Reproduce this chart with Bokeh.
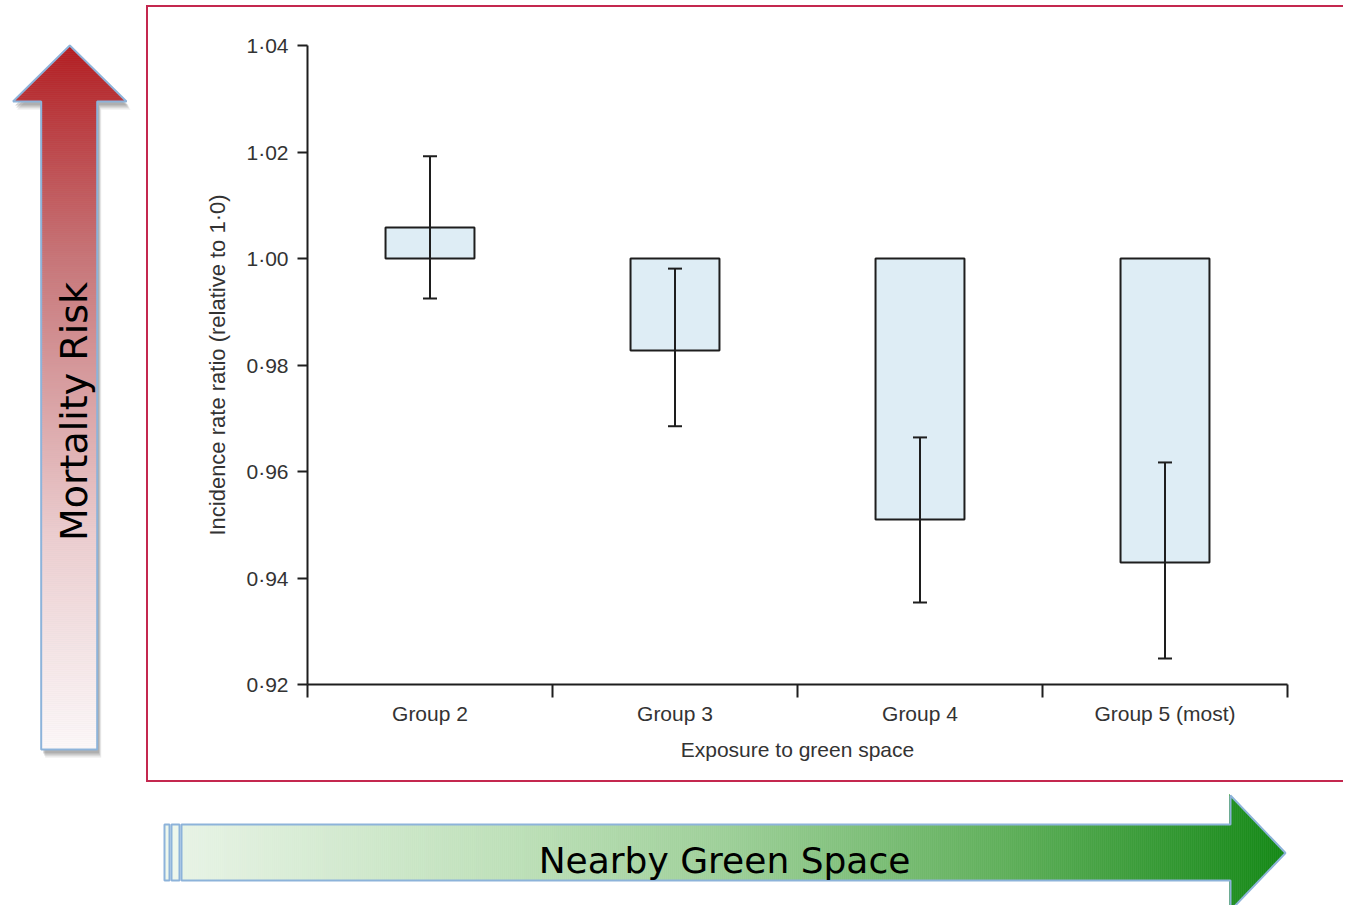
import math
from bokeh.plotting import figure
from bokeh.models import (Range1d, FixedTicker, CustomJSTickFormatter, Whisker,
                          TeeHead, ColumnDataSource, Spacer)
from bokeh.layouts import row, column
from bokeh.embed import file_html
from bokeh.resources import INLINE
from bokeh.core.properties import value

# ---------------- data ----------------
groups = ["Group 2", "Group 3", "Group 4", "Group 5 (most)"]
irr = [1.0058, 0.9827, 0.9510, 0.9429]
ci_low = [0.9925, 0.9685, 0.9354, 0.9249]
ci_high = [1.0192, 0.9981, 0.9664, 0.9617]
y_ticks = [0.92, 0.94, 0.96, 0.98, 1.00, 1.02, 1.04]
baseline = 1.0
y_label = "Incidence rate ratio (relative to 1\u00b70)"
x_label = "Exposure to green space"
side_text = "Mortality Risk"
bottom_text = "Nearby Green Space"

TXT = "#333333"
INK = "#1e1e1e"
FONT = "Liberation Sans"
RED = "#c4284f"
BLUE_EDGE = "#8db3da"


def no_align(f):
    try:
        f.frame_align = False
    except Exception:
        pass


# ---------------- main chart ----------------
n = len(groups)
centers = [i + 0.5 for i in range(n)]
bounds = list(range(n + 1))

src = ColumnDataSource(dict(x=centers, top=irr, bottom=[baseline] * n,
                            lo=ci_low, hi=ci_high))

main = figure(width=1197, height=777, x_range=Range1d(0, n),
              y_range=Range1d(y_ticks[0], y_ticks[-1]),
              toolbar_location=None, output_backend="svg",
              min_border_left=159, min_border_top=38,
              min_border_bottom=100, min_border_right=58)
no_align(main)
main.styles = {"border-left": f"2px solid {RED}", "border-top": f"2px solid {RED}",
               "border-bottom": f"2px solid {RED}"}
main.grid.visible = False
main.outline_line_color = None
main.background_fill_color = "white"
main.border_fill_color = "white"

main.vbar(x="x", top="top", bottom="bottom", width=0.363, source=src,
          fill_color="#deedf5", line_color=INK, line_width=2)
main.add_layout(Whisker(source=src, base="x", upper="hi", lower="lo",
                        line_color=INK, line_width=2, level="annotation",
                        upper_head=TeeHead(size=14, line_width=2, line_color=INK),
                        lower_head=TeeHead(size=14, line_width=2, line_color=INK)))

ya = main.yaxis[0]
ya.ticker = FixedTicker(ticks=y_ticks)
ya.formatter = CustomJSTickFormatter(code="return tick.toFixed(2).replace('.', '\u00b7');")
ya.axis_label = y_label
ya.axis_line_color = INK
ya.axis_line_width = 2
ya.major_tick_line_color = INK
ya.major_tick_line_width = 2
ya.major_tick_out = 10
ya.major_tick_in = 0
ya.minor_tick_line_color = None
ya.major_label_standoff = 9
ya.major_label_text_font = FONT
ya.major_label_text_font_size = "21px"
ya.major_label_text_color = TXT
ya.axis_label_text_font = FONT
ya.axis_label_text_font_size = "22px"
ya.axis_label_text_font_style = "normal"
ya.axis_label_text_color = TXT
ya.axis_label_standoff = 13

xa = main.xaxis[0]
xa.ticker = FixedTicker(ticks=centers, minor_ticks=bounds)
xa.formatter = CustomJSTickFormatter(args=dict(labels=groups),
                                     code="return labels[Math.floor(tick)] || '';")
xa.axis_label = x_label
xa.axis_line_color = INK
xa.axis_line_width = 2
xa.major_tick_line_color = None
xa.major_tick_out = 0
xa.major_tick_in = 0
xa.minor_tick_line_color = INK
xa.minor_tick_line_width = 2
xa.minor_tick_out = 13
xa.minor_tick_in = 0
xa.major_label_standoff = 4
xa.major_label_text_font = FONT
xa.major_label_text_font_size = "21px"
xa.major_label_text_color = TXT
xa.axis_label_text_font = FONT
xa.axis_label_text_font_size = "21px"
xa.axis_label_text_font_style = "normal"
xa.axis_label_text_color = TXT
xa.axis_label_standoff = 10


# ---------------- decorative arrows ----------------
def lerp(stops, t):
    t = max(0.0, min(1.0, t))
    for (t0, c0), (t1, c1) in zip(stops[:-1], stops[1:]):
        if t <= t1:
            f = 0 if t1 == t0 else (t - t0) / (t1 - t0)
            return "#%02x%02x%02x" % tuple(int(round(a + (b - a) * f)) for a, b in zip(c0, c1))
    return "#%02x%02x%02x" % stops[-1][1]


def deco_fig(w, h, x0, x1, y0, y1):
    f = figure(width=w, height=h, x_range=Range1d(x0, x1), y_range=Range1d(y1, y0),
               toolbar_location=None, output_backend="svg", min_border=0,
               x_axis_type=None, y_axis_type=None)
    no_align(f)
    f.grid.visible = False
    f.outline_line_color = None
    f.background_fill_color = "white"
    f.border_fill_color = "white"
    return f


# left vertical arrow
left = deco_fig(146, 782, 0, 146, 0, 782)
apex_y, base_y, bot_y = 45, 101, 749
hx0, hx1, sx0, sx1, cx = 12.5, 126, 40.7, 96.7, 69.3
red_stops = [(0.0, (178, 29, 33)), (0.1, (186, 58, 62)), (0.3, (199, 116, 119)),
             (0.7, (236, 206, 208)), (1.0, (252, 248, 249))]
arrow_x = [cx, hx1, sx1, sx1, sx0, sx0, hx0]
arrow_y = [apex_y, base_y, base_y, bot_y, bot_y, base_y, base_y]
for dx, dy, a in [(4, 8, 0.15), (3, 6, 0.25), (2, 4, 0.3)]:
    left.patch([v + dx for v in arrow_x], [v + dy for v in arrow_y],
               fill_color="#707070", fill_alpha=a, line_color=None)
xs, ys, cs = [], [], []
step = 2
y = apex_y
while y < bot_y:
    y2 = min(y + step, bot_y)
    c = lerp(red_stops, ((y + y2) / 2 - apex_y) / (bot_y - apex_y))
    if y2 <= base_y:
        h1 = (y - apex_y) / (base_y - apex_y) * (hx1 - cx)
        h2 = (y2 - apex_y) / (base_y - apex_y) * (hx1 - cx)
        xs.append([cx - h1, cx + h1, cx + h2, cx - h2])
    else:
        xs.append([sx0, sx1, sx1, sx0])
    ys.append([y, y, y2, y2])
    cs.append(c)
    y = y2
left.patches(xs, ys, fill_color=cs, line_color=cs, line_width=0.6)
left.patch(arrow_x, arrow_y, fill_color=None, line_color=BLUE_EDGE, line_width=2)
left.text(x=[73], y=[411], text=[side_text], angle=math.pi / 2,
          text_align="center", text_baseline="middle",
          text_font=value("DejaVu Sans"), text_font_size="38px", text_color="black")

# bottom horizontal arrow
bottom = deco_fig(1346, 123, 0, 1346, 782, 905)
gx0, gx_head, gx_apex = 181, 1230, 1285
gy0, gy1, gcy, ghead0, ghead1 = 824, 880, 852.5, 795, 910
green_stops = [(0.0, (233, 244, 231)), (0.33, (186, 222, 181)), (0.5, (157, 207, 152)),
               (0.75, (95, 175, 90)), (1.0, (20, 136, 22))]
for sx_a, sx_b in [(164, 169), (171, 179)]:
    bottom.quad(left=[sx_a], right=[sx_b], top=[gy0], bottom=[gy1],
                fill_color="#eef7ec", line_color=BLUE_EDGE, line_width=2)
xs, ys, cs = [], [], []
x = gx0
while x < gx_apex:
    x2 = min(x + step, gx_apex)
    c = lerp(green_stops, ((x + x2) / 2 - 164) / (gx_apex - 164))
    if x2 <= gx_head:
        xs.append([x, x2, x2, x])
        ys.append([gy0, gy0, gy1, gy1])
    else:
        h1 = (gx_apex - x) / (gx_apex - gx_head) * (ghead1 - gcy)
        h2 = (gx_apex - x2) / (gx_apex - gx_head) * (ghead1 - gcy)
        xs.append([x, x2, x2, x])
        ys.append([gcy - h1, gcy - h2, gcy + h2, gcy + h1])
    cs.append(c)
    x = x2
bottom.patches(xs, ys, fill_color=cs, line_color=cs, line_width=0.6)
bottom.patch([gx0, gx_head, gx_head, gx_apex, gx_head, gx_head, gx0],
             [gy0, gy0, ghead0, gcy, ghead1, gy1, gy1],
             fill_color=None, line_color=BLUE_EDGE, line_width=2)
bottom.text(x=[724], y=[860], text=[bottom_text], text_align="center",
            text_baseline="middle", text_font=value("DejaVu Sans"),
            text_font_size="36px", text_color="black")

layout = column(row(left, column(Spacer(width=1197, height=5), main)), bottom)
open("out.html", "w").write(file_html(layout, INLINE))
